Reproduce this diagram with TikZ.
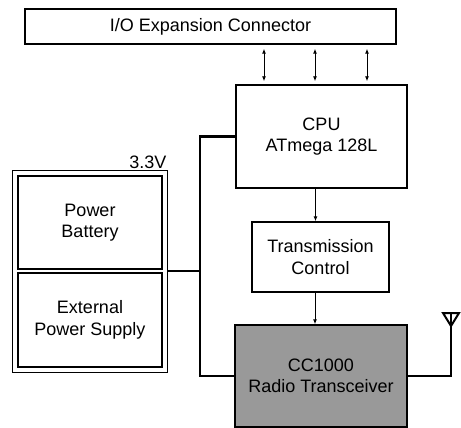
\documentclass[tikz,border=0pt]{standalone}
\usepackage{fontspec}
\setmainfont{Liberation Sans}
\usepackage{tikz}
\usetikzlibrary{positioning,arrows.meta,calc}
\tikzstyle{block}=[rectangle,draw=black,line width=1.4pt,inner sep=0pt,align=center,font=\fontsize{18}{21.5}\selectfont]
\tikzstyle{power}=[line width=2.6pt]
\tikzstyle{sig}=[line width=0.9pt,-{Latex[length=5pt,width=4pt]}]
\tikzstyle{bisig}=[line width=0.9pt,{Latex[length=5pt,width=4pt]}-{Latex[length=5pt,width=4pt]}]

\begin{document}
\begin{tikzpicture}[x=1pt,y=-1pt]
		\useasboundingbox (0,0) rectangle (461,428);

		% nodes
		\node[block,minimum width=371pt,minimum height=35pt] (io) at (210.5,26.5)
			{I/O Expansion Connector};
		\node[block,minimum width=171pt,minimum height=103pt] (cpu) at (321.5,136.5)
			{CPU\\ATmega 128L};
		\node[block,minimum width=137pt,minimum height=70pt] (tc) at (320.5,257)
			{Transmission\\Control};
		\node[block,fill=black!40,minimum width=172pt,minimum height=102pt] (cc) at (321,376)
			{CC1000\\Radio Transceiver};

		% power supply
		\node[block,line width=1pt,minimum width=155pt,minimum height=202pt] (pwr) at (89.5,271) {};
		\node[block,minimum width=144pt,minimum height=93pt] (bat) at (90,222.5)
			{Power\\Battery};
		\node[block,minimum width=144pt,minimum height=94pt] (ext) at (90,320)
			{External\\Power Supply};
		\node[anchor=south east,inner sep=1pt,font=\fontsize{18}{21.5}\selectfont] (volt) at (pwr.north east)
			{3.3V};

		% io lines
		\foreach \dx in {-57.5,-6.5,45.5} {
			\draw[bisig,shorten <=3pt,shorten >=4pt] ([xshift=\dx pt]cpu.north)
				-- ([xshift=\dx pt]cpu.north |- io.south);
		}

		% signal path
		\draw[sig] ([xshift=-6pt]cpu.south) -- ([xshift=-6pt]cpu.south |- tc.north);
		\draw[sig] ([xshift=-5.5pt]tc.south) -- ([xshift=-5.5pt]tc.south |- cc.north);

		% supply bus
		\coordinate (bus) at (200,271);
		\draw[power] (pwr.east) -- (bus);
		\draw[power] (cpu.west) -| (bus) |- (cc.west);

		% antenna
		\coordinate (ant) at (451,326);
		\draw[power] (cc.east) -| (ant);
		\draw[line width=2pt,line join=miter] (443,313) -- (459,313) -- (ant) -- cycle;
		\draw[line width=1.5pt] (ant) -- (451,313);
	\end{tikzpicture}
\end{document}
